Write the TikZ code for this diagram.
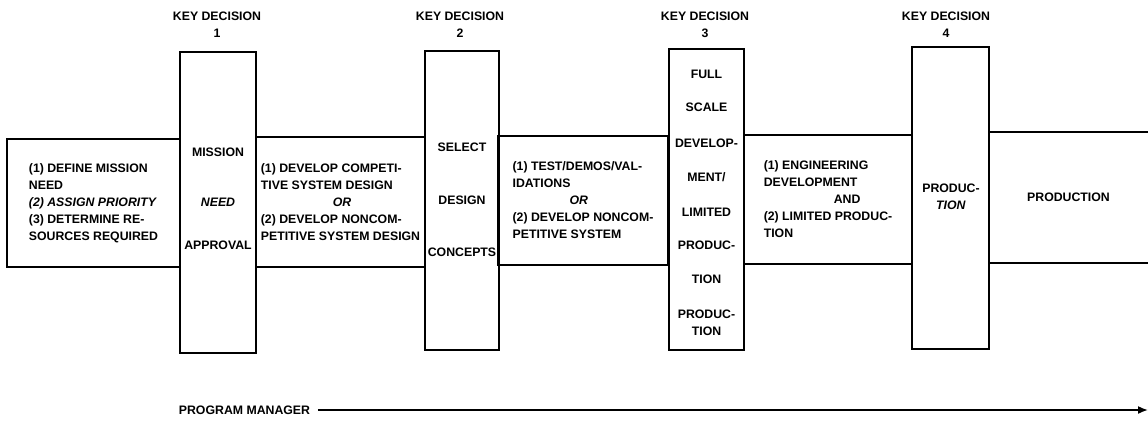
\documentclass[tikz,border=0pt]{standalone}
\usepackage{fontspec}
\setmainfont{Liberation Sans}
\usetikzlibrary{arrows.meta}

\begin{document}
\begin{tikzpicture}
[x=1pt,y=-1pt,line width=1.6pt,%
  every node/.style={font=\bfseries\fontsize{12.3}{17}\selectfont,inner sep=0pt},
  kdbox/.style={draw,rectangle,minimum height=301pt},
  phase/.style={draw,rectangle,align=left,minimum height=129pt},
  head/.style={align=center}]
\useasboundingbox (0,0) rectangle (1148,423);
% phases between the key decisions
\node[phase,minimum width=173pt,minimum height=128pt] (s1) at (93.5,203)
  {(1) DEFINE MISSION\\NEED\\\textit{(2) ASSIGN PRIORITY}\\(3) DETERMINE RE-\\SOURCES REQUIRED};
\node[phase,minimum width=169pt,minimum height=130pt] (s2) at (340.5,202)
  {(1) DEVELOP COMPETI-\\TIVE SYSTEM DESIGN\\\hspace*{72pt}\textit{OR}\\(2) DEVELOP NONCOM-\\PETITIVE SYSTEM DESIGN};
\node[phase,minimum width=170pt] (s3) at (583,200.5)
  {(1) TEST/DEMOS/VAL-\\IDATIONS\\\hspace*{57pt}\textit{OR}\\(2) DEVELOP NONCOM-\\PETITIVE SYSTEM};
\node[phase,minimum width=168pt] (s4) at (828,199.5)
  {(1) ENGINEERING\\DEVELOPMENT\\\hspace*{70pt}AND\\(2) LIMITED PRODUC-\\TION};
\node[minimum width=159pt,minimum height=129pt] (s5) at (1068.5,197.5) {PRODUCTION};
\draw (s5.north west) -- (s5.north east) (s5.south west) -- (s5.south east);
% key decisions
\node[kdbox,minimum width=76pt] (kd1) at (218,202.5) {};
\node[kdbox,minimum width=74pt,minimum height=299pt] (kd2) at (462,200.5) {};
\node[kdbox,minimum width=75pt] (kd3) at (706.5,199.5) {};
\node[kdbox,minimum width=77pt,minimum height=302pt] (kd4) at (950.5,198) {};
\node[head] (h1) at (217,24.5) {KEY DECISION\\1};
\node[head] (h2) at (460,24.5) {KEY DECISION\\2};
\node[head] (h3) at (705,24.5) {KEY DECISION\\3};
\node[head] (h4) at (946,24.5) {KEY DECISION\\4};
% texts in the boxes
\node (m1) at (218,152) {MISSION};
\node (m2) at (218,202) {\textit{NEED}};
\node (m3) at (218,245) {APPROVAL};
\node (d1) at (462,147) {SELECT};
\node (d2) at (462,200) {DESIGN};
\node (d3) at (462,252) {CONCEPTS};
\node (f1) at (706.5,74) {FULL};
\node (f2) at (706.5,107) {SCALE};
\node (f3) at (706.5,143) {DEVELOP-};
\node (f4) at (706.5,177) {MENT/};
\node (f5) at (706.5,212) {LIMITED};
\node (f6) at (706.5,245) {PRODUC-};
\node (f7) at (706.5,279) {TION};
\node[head] (f8) at (706.5,322.5) {PRODUC-\\TION};
\node[head] (p1) at (951,196.5) {PRODUC-\\\textit{TION}};
% program manager
\node (pm) at (244.5,410) {PROGRAM MANAGER};
\coordinate (pmend) at (1148,410);
\draw[-{Latex[length=10pt,width=8pt]}] ([xshift=7pt]pm.east) -- (pmend);
\end{tikzpicture}
\end{document}
